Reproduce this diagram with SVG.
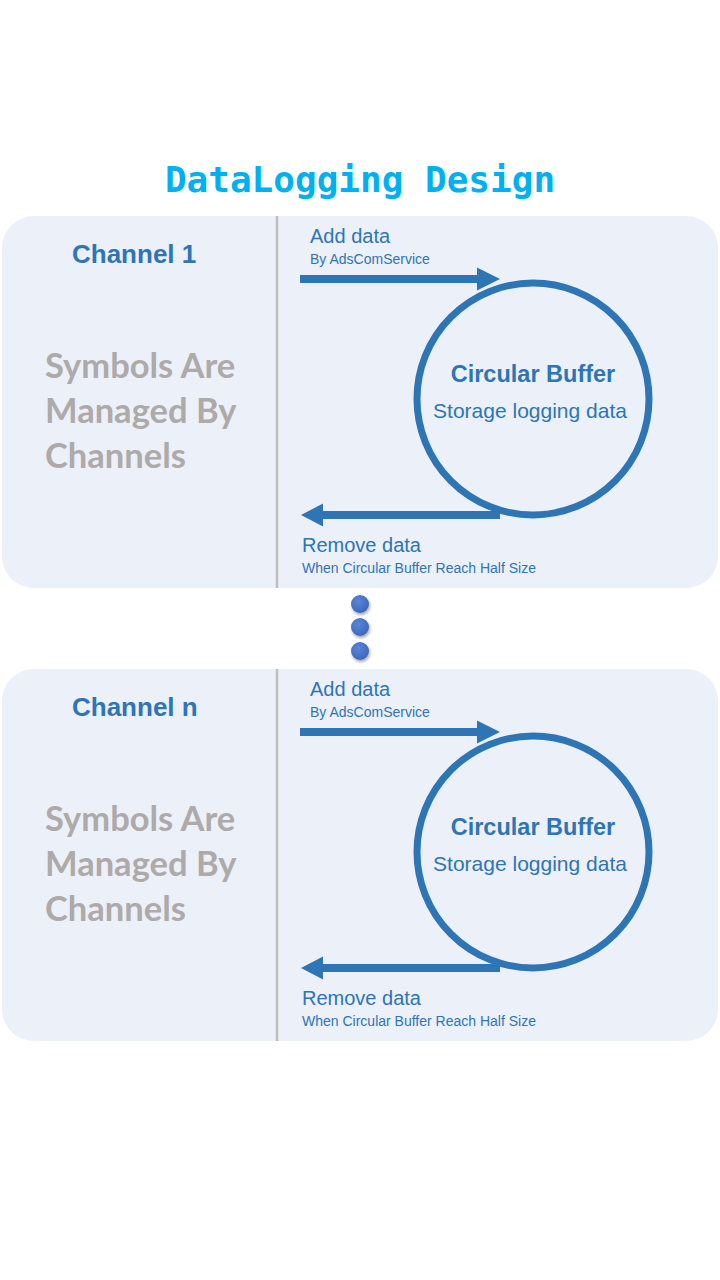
<svg xmlns="http://www.w3.org/2000/svg" width="720" height="1280" viewBox="0 0 720 1280">
<style>
.panel{fill:#ECF0F9}
.div{stroke:#BFBFBF;stroke-width:2.5}
.buf{fill:none;stroke:#2E75B6;stroke-width:7}
.arr{fill:#2E75B6}
.t{font-family:"Liberation Sans",Arial,sans-serif;fill:#2E75B6}
.ch{font-size:26px;font-weight:bold}
.cb{font-size:23.5px;font-weight:bold;text-anchor:middle}
.sd{font-size:21px;text-anchor:middle}
.lb{font-size:20px}
.sm{font-size:14px}
.sym{font-family:Lato,"Open Sans",sans-serif;font-weight:bold;font-size:34.5px;fill:#AEAAAA}
.title{font-family:"DejaVu Sans Mono",monospace;font-weight:bold;font-size:36px;fill:#00B0F0;text-anchor:middle}
</style>
<defs>
<radialGradient id="dotg" cx="0.4" cy="0.35" r="0.7">
<stop offset="0" stop-color="#5A86D6"/>
<stop offset="1" stop-color="#3A66BA"/>
</radialGradient>
<filter id="sh" x="-50%" y="-50%" width="200%" height="200%">
<feDropShadow dx="1" dy="2" stdDeviation="1.5" flood-color="#000" flood-opacity="0.35"/>
</filter>
<g id="channelBody">
<path class="arr" d="M300 275 H477 V267.5 L500 279 L477 290.5 V283 H300 Z"/>
<circle class="buf" cx="533" cy="399" r="116"/>
<path class="arr" d="M500 511 H323 V503.5 L301 515 L323 526.5 V519 H500 Z"/>
</g>
</defs>
<text class="title" x="360" y="192">DataLogging Design</text>

<g id="channel1">
<rect class="panel" x="2" y="216" width="716" height="372" rx="32"/>
<line class="div" x1="277" y1="216" x2="277" y2="588"/>
<text class="t ch" x="72" y="263">Channel 1</text>
<text class="sym" x="45" y="378">Symbols Are</text>
<text class="sym" x="45" y="423">Managed By</text>
<text class="sym" x="45" y="468">Channels</text>
</g>
<g id="buffer1">
<text class="t cb" x="533" y="382">Circular Buffer</text>
<text class="t sd" x="530" y="418">Storage logging data</text>
</g>

<g id="channelN">
<rect class="panel" x="2" y="669" width="716" height="372" rx="32"/>
<line class="div" x1="277" y1="669" x2="277" y2="1041"/>
<text class="t ch" x="72" y="716">Channel n</text>
<text class="sym" x="45" y="831">Symbols Are</text>
<text class="sym" x="45" y="876">Managed By</text>
<text class="sym" x="45" y="921">Channels</text>
</g>
<g id="bufferN">
<text class="t cb" x="533" y="835">Circular Buffer</text>
<text class="t sd" x="530" y="871">Storage logging data</text>
</g>

<g id="connectors">
<use href="#channelBody"/>
<use href="#channelBody" y="453"/>
<text class="t lb" x="310" y="243">Add data</text>
<text class="t sm" x="310" y="264">By AdsComService</text>
<text class="t lb" x="302" y="552">Remove data</text>
<text class="t sm" x="302" y="573">When Circular Buffer Reach Half Size</text>
<text class="t lb" x="310" y="696">Add data</text>
<text class="t sm" x="310" y="717">By AdsComService</text>
<text class="t lb" x="302" y="1005">Remove data</text>
<text class="t sm" x="302" y="1026">When Circular Buffer Reach Half Size</text>
</g>

<g id="ellipsis" filter="url(#sh)">
<circle cx="360" cy="604" r="9" fill="url(#dotg)"/>
<circle cx="360" cy="627" r="9" fill="url(#dotg)"/>
<circle cx="360" cy="651" r="9" fill="url(#dotg)"/>
</g>
</svg>
